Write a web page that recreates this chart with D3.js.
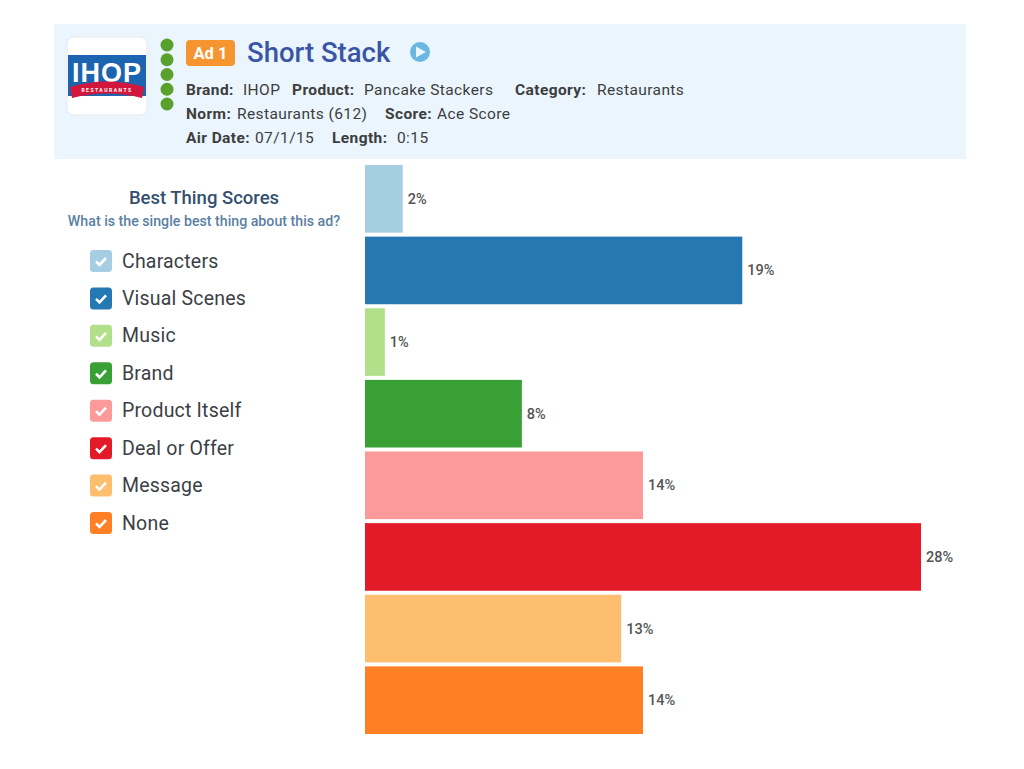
<!DOCTYPE html>
<html>
<head>
<meta charset="utf-8">
<script src="https://cdnjs.cloudflare.com/ajax/libs/d3/7.8.5/d3.min.js"></script>
<style>
  html, body { margin: 0; padding: 0; background: #fff; }
  svg { display: block; font-family: Roboto, sans-serif; }
</style>
</head>
<body>
<div id="chart"></div>
<script>
const categories = ['Characters', 'Visual Scenes', 'Music', 'Brand', 'Product Itself', 'Deal or Offer', 'Message', 'None'];
const scores = [1.9, 19, 1, 7.9, 14, 28, 12.9, 14];
const colors = ['#a6cee3', '#2678b2', '#b2df8a', '#38a035', '#fb9a99', '#e31a27', '#fdbf6f', '#ff7f24'];
const infoLines = [
  [['Brand:', 1, 186], ['IHOP', 0, 243], ['Product:', 1, 292], ['Pancake Stackers', 0, 364], ['Category:', 1, 515], ['Restaurants', 0, 597]],
  [['Norm:', 1, 186], ['Restaurants (612)', 0, 237], ['Score:', 1, 385], ['Ace Score', 0, 437]],
  [['Air Date:', 1, 186], ['07/1/15', 0, 255], ['Length:', 1, 332], ['0:15', 0, 397]]
];
const ratingDots = [1, 2, 3, 4, 5];

const svg = d3.select('#chart').append('svg').attr('width', 1024).attr('height', 769);

// header panel
svg.append('rect').attr('x', 54).attr('y', 24).attr('width', 912).attr('height', 135).attr('fill', '#eaf5fd');

// logo
const logo = svg.append('g');
logo.append('rect').attr('x', 67).attr('y', 37).attr('width', 80).attr('height', 78).attr('rx', 7)
  .attr('fill', '#fff').attr('stroke', '#e9e9e9').attr('stroke-width', 1);
logo.append('rect').attr('x', 68).attr('y', 55).attr('width', 78).attr('height', 41).attr('fill', '#1c63b0');
logo.append('text').attr('x', 107).attr('y', 82).attr('text-anchor', 'middle')
  .attr('font-family', '"Liberation Sans", sans-serif').attr('font-size', 27).attr('font-weight', 700)
  .attr('letter-spacing', 1).attr('fill', '#fff').text('IHOP');
logo.append('path').attr('d', 'M70,87 Q107,76 144,87 L142,98 Q107,89 72,98 Z').attr('fill', '#d3173c');
logo.append('text').attr('x', 107).attr('y', 92).attr('text-anchor', 'middle')
  .attr('font-size', 5).attr('font-weight', 700).attr('letter-spacing', 1.5).attr('fill', '#fff').text('RESTAURANTS');

// rating dots
const dotY = d3.scalePoint().domain(ratingDots).range([45, 104]);
svg.append('g').selectAll('circle').data(ratingDots).join('circle')
  .attr('cx', 167).attr('cy', (d) => dotY(d)).attr('r', 6.5).attr('fill', '#5aa02c');

// title row
svg.append('rect').attr('x', 186).attr('y', 40).attr('width', 49).attr('height', 26).attr('rx', 4).attr('fill', '#f6952f');
svg.append('text').attr('x', 210.5).attr('y', 59).attr('text-anchor', 'middle').attr('font-size', 16.5)
  .attr('font-weight', 700).attr('fill', '#fff').text('Ad 1');
svg.append('text').attr('x', 247).attr('y', 62).attr('font-size', 27.5).attr('font-weight', 500)
  .attr('fill', '#3b55a5').text('Short Stack');
svg.append('circle').attr('cx', 420).attr('cy', 52).attr('r', 10).attr('fill', '#6cb6e2');
svg.append('path').attr('d', 'M416,46.5 L426,52 L416,57.5 Z').attr('fill', '#eaf5fd');

// brand info
const lineY = [95, 119, 143];
infoLines.forEach((line, i) => {
  svg.append('g').selectAll('text').data(line).join('text')
    .attr('x', (d) => d[2])
    .attr('y', lineY[i])
    .attr('font-size', 15.5)
    .attr('font-weight', (d) => (d[1] ? 700 : 400))
    .attr('letter-spacing', 0.4)
    .attr('fill', '#3d3d3d')
    .text((d) => d[0]);
});

// legend heading
svg.append('text').attr('x', 204).attr('y', 204).attr('text-anchor', 'middle').attr('font-size', 18.5)
  .attr('font-weight', 500).attr('fill', '#34506f').text('Best Thing Scores');
svg.append('text').attr('x', 204).attr('y', 226).attr('text-anchor', 'middle').attr('font-size', 14.2)
  .attr('font-weight', 500).attr('fill', '#5b7fa3').text('What is the single best thing about this ad?');

// legend
const legendY = d3.scalePoint().domain(categories).range([261, 523]);
const legend = svg.append('g').selectAll('g').data(categories).join('g')
  .attr('transform', (d) => `translate(90,${legendY(d)})`);
legend.append('rect').attr('x', 0).attr('y', -11).attr('width', 22).attr('height', 22).attr('rx', 3.5)
  .attr('fill', (d, i) => colors[i]);
legend.append('path').attr('d', 'M6,0.5 L9.5,4 L16,-3').attr('fill', 'none').attr('stroke', '#fff')
  .attr('stroke-width', 2.6);
legend.append('text').attr('x', 32).attr('y', 6.5).attr('font-size', 19.5).attr('letter-spacing', 0.2)
  .attr('fill', '#3c3f46').text((d) => d);

// bars
const x = d3.scaleLinear().domain([0, 28]).range([365, 921]);
const y = d3.scaleBand().domain(categories).range([165, 734]).paddingInner(0.056);

svg.append('g').selectAll('rect').data(categories).join('rect')
  .attr('x', x(0))
  .attr('y', (d) => y(d))
  .attr('width', (d, i) => x(scores[i]) - x(0))
  .attr('height', y.bandwidth())
  .attr('fill', (d, i) => colors[i]);

svg.append('g').selectAll('text').data(categories).join('text')
  .attr('x', (d, i) => x(scores[i]) + 5)
  .attr('y', (d) => y(d) + y.bandwidth() / 2 + 5)
  .attr('font-size', 14.5)
  .attr('font-weight', 500)
  .attr('fill', '#555')
  .text((d, i) => `${Math.round(scores[i])}%`);
</script>
</body>
</html>
